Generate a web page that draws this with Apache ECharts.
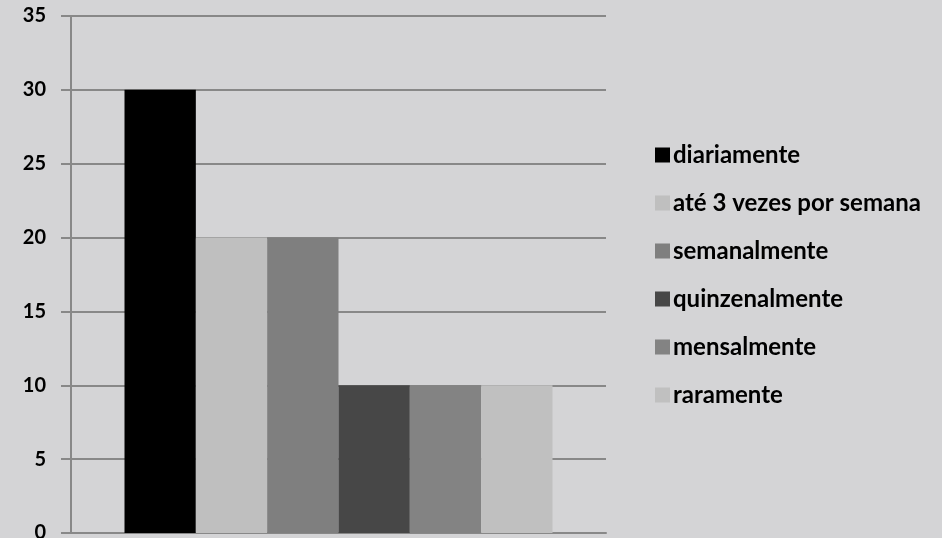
<!DOCTYPE html>
<html><head><meta charset="utf-8">
<script src="https://cdn.jsdelivr.net/npm/echarts@6/dist/echarts.min.js"></script>
<style>html,body{margin:0;padding:0;background:#d4d4d6;}#c{width:942px;height:538px;}</style>
</head><body><div id="c"></div>
<script>
const categories = [''];
const seriesNames = ['diariamente', 'até 3 vezes por semana', 'semanalmente', 'quinzenalmente', 'mensalmente', 'raramente'];
const seriesValues = [30, 20, 20, 10, 10, 10];
const seriesColors = ['#000000', '#bfbfbf', '#7f7f7f', '#474747', '#838383', '#c0c0c0'];
const yTicks = [0, 5, 10, 15, 20, 25, 30, 35];

const chart = echarts.init(document.getElementById('c'), null, {renderer: 'canvas'});
const font = 'Lato, "Open Sans", sans-serif';
chart.setOption({
  backgroundColor: '#d4d4d6',
  animation: false,
  grid: {left: 71, right: 336, top: 16, bottom: 5, containLabel: false, outerBoundsMode: 'none'},
  legend: {
    orient: 'vertical', left: 650, top: 138,
    itemWidth: 15, itemHeight: 15, itemGap: 24,
    icon: 'rect',
    data: seriesNames,
    textStyle: {fontFamily: font, fontWeight: 'bold', fontSize: 24, color: '#000', padding: [0,0,0,-2]}
  },
  xAxis: {
    type: 'category', data: categories,
    axisLine: {show: true, lineStyle: {color: '#888', width: 2}},
    axisTick: {show: false}, axisLabel: {show: false}
  },
  yAxis: {
    type: 'value', min: yTicks[0], max: yTicks[yTicks.length-1], interval: 5,
    axisLine: {show: true, lineStyle: {color: '#888', width: 2}},
    axisTick: {show: true, length: 10, lineStyle: {color: '#888', width: 2}},
    splitLine: {show: true, lineStyle: {color: '#888', width: 2}},
    axisLabel: {fontFamily: font, fontWeight: 'bold', fontSize: 20, color: '#000', margin: 25}
  },
  series: seriesNames.map((n, i) => ({
    name: n, type: 'bar', data: [seriesValues[i]],
    barGap: '0%', barCategoryGap: '20%',
    itemStyle: {color: seriesColors[i]}
  }))
});
</script></body></html>
